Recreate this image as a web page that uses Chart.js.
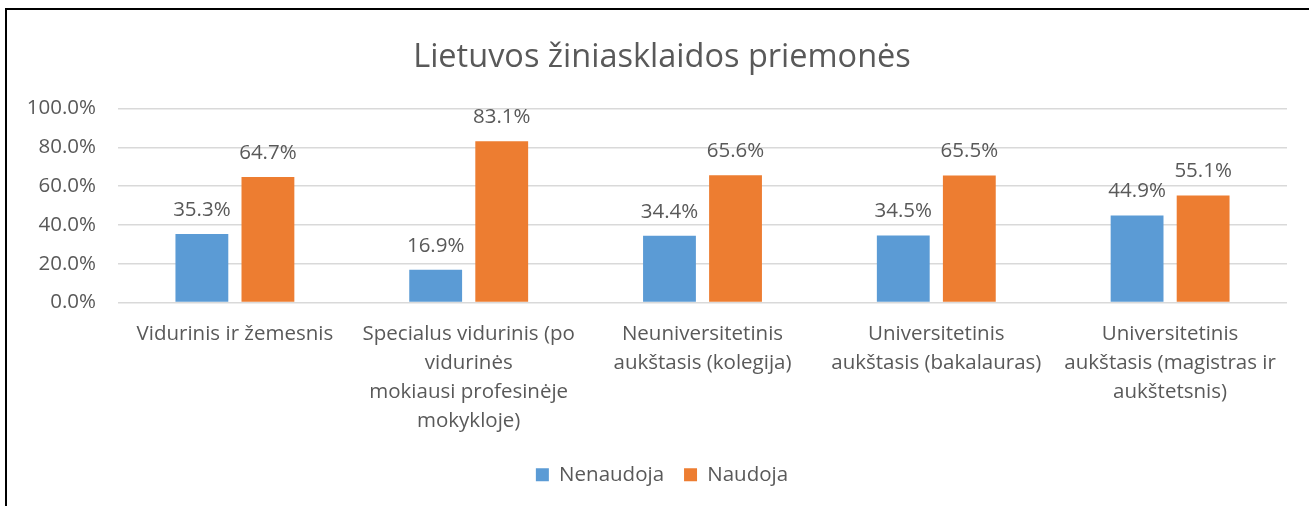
<!DOCTYPE html>
<html>
<head>
<meta charset="utf-8">
<script src="https://cdn.jsdelivr.net/npm/chart.js@4.4.1/dist/chart.umd.min.js"></script>
<style>
  html, body { margin: 0; padding: 0; background: #fff; overflow: hidden; }
  #wrap { position: relative; width: 1309px; height: 506px; }
  #frame { position: absolute; left: 5px; top: 8px; width: 1320px; height: 520px; border: 2px solid #000; pointer-events: none; }
</style>
</head>
<body>
<div id="wrap">
  <canvas id="chart" width="1309" height="506"></canvas>
  <div id="frame"></div>
</div>
<script>
const categories = [
  "Vidurinis ir žemesnis",
  ["Specialus vidurinis (po", "vidurinės", "mokiausi profesinėje", "mokykloje)"],
  ["Neuniversitetinis", "aukštasis (kolegija)"],
  ["Universitetinis", "aukštasis (bakalauras)"],
  ["Universitetinis", "aukštasis (magistras ir", "aukštetsnis)"]
];
const nenaudoja = [35.3, 16.9, 34.4, 34.5, 44.9];
const naudoja = [64.7, 83.1, 65.6, 65.5, 55.1];

const textColor = '#595959';
const fontFamily = '"Open Sans", "Noto Sans", sans-serif';

// draws the value above each bar
const valueLabels = {
  id: 'valueLabels',
  afterDatasetsDraw(chart) {
    const ctx = chart.ctx;
    ctx.save();
    ctx.font = '20.5px ' + fontFamily;
    ctx.fillStyle = textColor;
    ctx.textAlign = 'center';
    ctx.textBaseline = 'middle';
    chart.data.datasets.forEach((ds, i) => {
      chart.getDatasetMeta(i).data.forEach((bar, j) => {
        ctx.fillText(ds.data[j].toFixed(1) + '%', bar.x, bar.y - 24);
      });
    });
    ctx.restore();
  }
};

// title and legend are centred on the framed box, not the canvas
const centerOnFrame = {
  id: 'centerOnFrame',
  afterLayout(chart) {
    chart.titleBlock.left = 37;
    chart.legend.left = 37;
    chart.legend.adjustHitBoxes();
  }
};

new Chart(document.getElementById('chart'), {
  type: 'bar',
  data: {
    labels: categories,
    datasets: [
      { label: 'Nenaudoja', data: nenaudoja, backgroundColor: '#5B9BD5' },
      { label: 'Naudoja', data: naudoja, backgroundColor: '#ED7D31' }
    ]
  },
  options: {
    responsive: false,
    animation: false,
    layout: { padding: { top: 10, right: 22, bottom: 11, left: 0 } },
    datasets: { bar: { categoryPercentage: 0.565, barPercentage: 0.8 } },
    plugins: {
      title: {
        display: true,
        text: 'Lietuvos žiniasklaidos priemonės',
        color: textColor,
        font: { family: fontFamily, size: 32.5, weight: 'normal', lineHeight: 1.2 },
        padding: { top: 28.5, bottom: 31 }
      },
      legend: {
        position: 'bottom',
        labels: {
          color: textColor,
          boxWidth: 13,
          boxHeight: 13,
          padding: 20,
          font: { family: fontFamily, size: 20.5 }
        }
      },
      tooltip: { enabled: false }
    },
    scales: {
      x: {
        grid: { display: false },
        border: { display: false },
        ticks: {
          color: textColor,
          padding: 9,
          maxRotation: 0,
          autoSkip: false,
          font: { family: fontFamily, size: 20.5, lineHeight: 1.42 }
        },
        afterFit(scale) { scale.height = 142; }
      },
      y: {
        min: 0,
        max: 100,
        grid: { color: '#d9d9d9', lineWidth: 1.5, drawTicks: false },
        border: { display: false },
        ticks: {
          stepSize: 20,
          color: textColor,
          padding: 22,
          font: { family: fontFamily, size: 20.5 },
          callback: v => v.toFixed(1) + '%'
        },
        afterFit(scale) { scale.width = 118; }
      }
    }
  },
  plugins: [valueLabels, centerOnFrame]
});
</script>
</body>
</html>
